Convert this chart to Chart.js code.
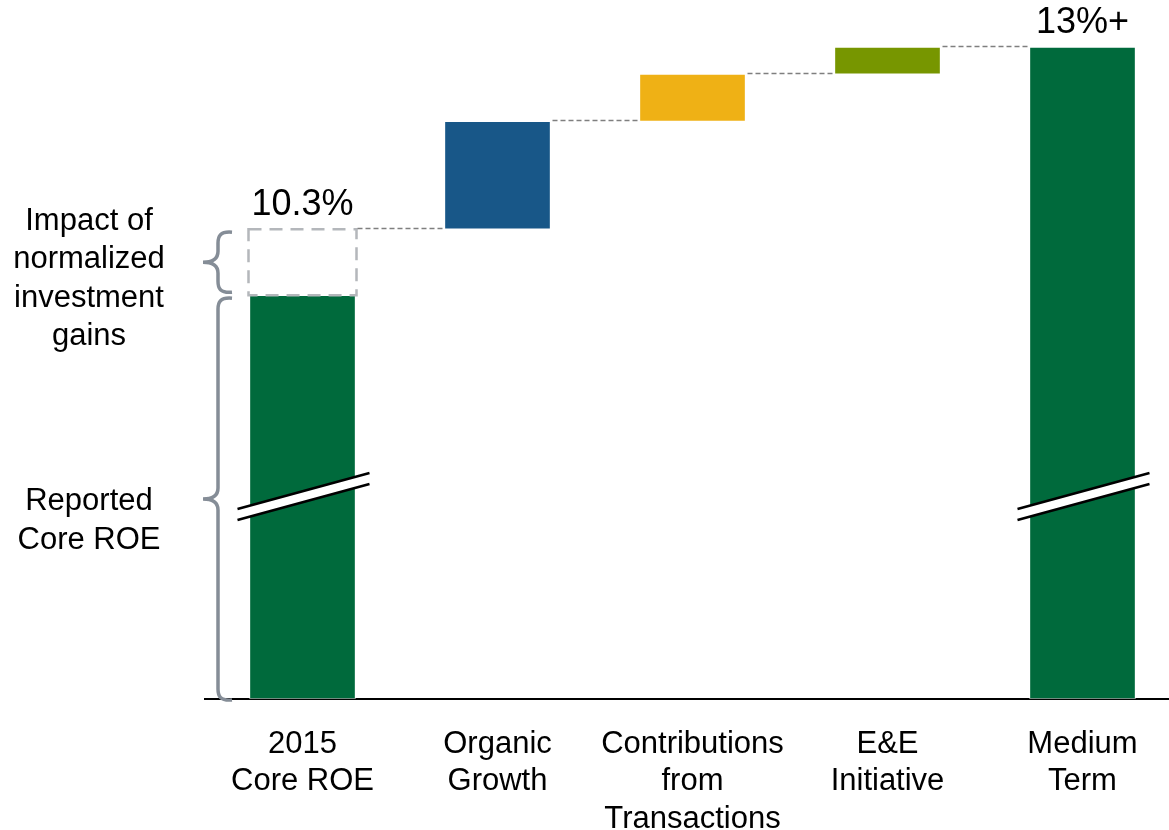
<!DOCTYPE html>
<html>
<head>
<meta charset="utf-8">
<script src="https://cdn.jsdelivr.net/npm/chart.js@4"></script>
<style>
  body { margin: 0; overflow: hidden; background: #fff; }
  #roeChart { display: block; }
</style>
</head>
<body>
<canvas id="roeChart" width="1180" height="830"></canvas>
<script>
// categories and waterfall values (ROE, %)
var categories = [["2015", "Core ROE"], ["Organic", "Growth"], ["Contributions", "from", "Transactions"], ["E&E", "Initiative"], ["Medium", "Term"]];
var axisMin = 3.33; // broken axis, bars start here
var barLows = [axisMin, 10.3, 11.9, 12.6, axisMin];
var barHighs = [9.32, 11.9, 12.6, 13.0, 13.0];
var normalizedROE = 10.3; // dashed box top
var valueLabels = ["10.3%", "", "", "", "13%+"];
var barColors = ["#006a3c", "#185788", "#efb115", "#779600", "#006a3c"];
var sideNotes = [
  { lines: ["Impact of", "normalized", "investment", "gains"], mid: 279 },
  { lines: ["Reported", "Core ROE"], mid: 521 }
];

var FONT = "Liberation Sans, Arial, sans-serif";

var rangeData = barLows.map(function (lo, i) { return [lo, barHighs[i]]; });

function drawBrace(ctx, x, top, bottom) {
  var mid = (top + bottom) / 2;
  var tipX = x - 15;
  var r = 11;
  ctx.beginPath();
  ctx.moveTo(x + 14, top);
  ctx.bezierCurveTo(x + 2, top - 1, x, top + 4, x, top + r);
  ctx.lineTo(x, mid - r);
  ctx.bezierCurveTo(x, mid - 3, x - 6, mid, tipX, mid);
  ctx.bezierCurveTo(x - 6, mid, x, mid + 3, x, mid + r);
  ctx.lineTo(x, bottom - r);
  ctx.bezierCurveTo(x, bottom - 4, x + 2, bottom + 1, x + 14, bottom);
  ctx.stroke();
}

var extras = {
  id: "extras",
  afterDatasetsDraw: function (chart) {
    var ctx = chart.ctx;
    var y = chart.scales.y;
    var bars = chart.getDatasetMeta(0).data;
    ctx.save();

    // dashed box for normalized investment gains
    var b0 = bars[0];
    var boxTop = y.getPixelForValue(normalizedROE);
    var boxBottom = y.getPixelForValue(barHighs[0]);
    ctx.strokeStyle = "#b4b7bb";
    ctx.lineWidth = 2.5;
    ctx.setLineDash([13, 8]);
    ctx.strokeRect(b0.x - b0.width / 2 - 1, boxTop, b0.width + 2, boxBottom - boxTop);

    // connectors
    ctx.strokeStyle = "#7f7f7f";
    ctx.lineWidth = 1.5;
    ctx.setLineDash([5, 3]);
    var levels = [normalizedROE, barHighs[1], barHighs[2], barHighs[3]];
    for (var i = 0; i < levels.length; i++) {
      var a = bars[i], b = bars[i + 1];
      var py = Math.round(y.getPixelForValue(levels[i])) - 0.5;
      ctx.beginPath();
      ctx.moveTo(a.x + a.width / 2 + 2, py);
      ctx.lineTo(b.x - b.width / 2, py);
      ctx.stroke();
    }
    ctx.setLineDash([]);

    // axis break marks
    [0, 4].forEach(function (idx) {
      var bar = bars[idx];
      var x1 = bar.x - 65, x2 = bar.x + 67;
      var y1 = 509, y2 = 473, gap = 11;
      ctx.fillStyle = "#fff";
      ctx.beginPath();
      ctx.moveTo(x1, y1);
      ctx.lineTo(x2, y2);
      ctx.lineTo(x2, y2 + gap);
      ctx.lineTo(x1, y1 + gap);
      ctx.closePath();
      ctx.fill();
      ctx.strokeStyle = "#000";
      ctx.lineWidth = 2.5;
      ctx.beginPath();
      ctx.moveTo(x1, y1); ctx.lineTo(x2, y2);
      ctx.moveTo(x1, y1 + gap); ctx.lineTo(x2, y2 + gap);
      ctx.stroke();
    });

    // value labels
    ctx.fillStyle = "#000";
    ctx.font = "36px " + FONT;
    ctx.textAlign = "center";
    ctx.textBaseline = "alphabetic";
    valueLabels.forEach(function (txt, i) {
      if (!txt) return;
      var top = i === 0 ? normalizedROE : barHighs[i];
      ctx.fillText(txt, bars[i].x, y.getPixelForValue(top) - 14);
    });

    // braces
    ctx.strokeStyle = "#858d97";
    ctx.lineWidth = 3.5;
    drawBrace(ctx, 218, boxTop + 3, boxBottom - 3);
    drawBrace(ctx, 218, boxBottom + 3, chart.chartArea.bottom + 1);

    // side notes
    ctx.font = "31px " + FONT;
    ctx.fillStyle = "#000";
    ctx.textBaseline = "middle";
    sideNotes.forEach(function (note) {
      var lh = 38.5;
      var start = note.mid - lh * (note.lines.length - 1) / 2;
      note.lines.forEach(function (ln, k) {
        ctx.fillText(ln, 89, start + k * lh);
      });
    });
    ctx.restore();
  }
};

new Chart(document.getElementById("roeChart"), {
  type: "bar",
  data: {
    labels: categories,
    datasets: [{
      data: rangeData,
      backgroundColor: barColors,
      borderColor: "rgba(255,255,255,0.6)",
      borderWidth: 1,
      borderSkipped: false,
      barThickness: 106
    }]
  },
  options: {
    responsive: false,
    animation: false,
    layout: { padding: { left: 205, right: 0, top: 0, bottom: 0 } },
    plugins: { legend: { display: false }, tooltip: { enabled: false } },
    scales: {
      x: {
        grid: { display: false, drawTicks: false },
        border: { display: true, color: "#000", width: 2 },
        ticks: {
          color: "#000",
          font: { family: FONT, size: 31, lineHeight: 1.2 },
          padding: 27,
          maxRotation: 0,
          autoSkip: false
        },
        afterFit: function (scale) { scale.height = 131; }
      },
      y: {
        display: false,
        min: axisMin,
        max: 13.7
      }
    }
  },
  plugins: [extras]
});
</script>
</body>
</html>
